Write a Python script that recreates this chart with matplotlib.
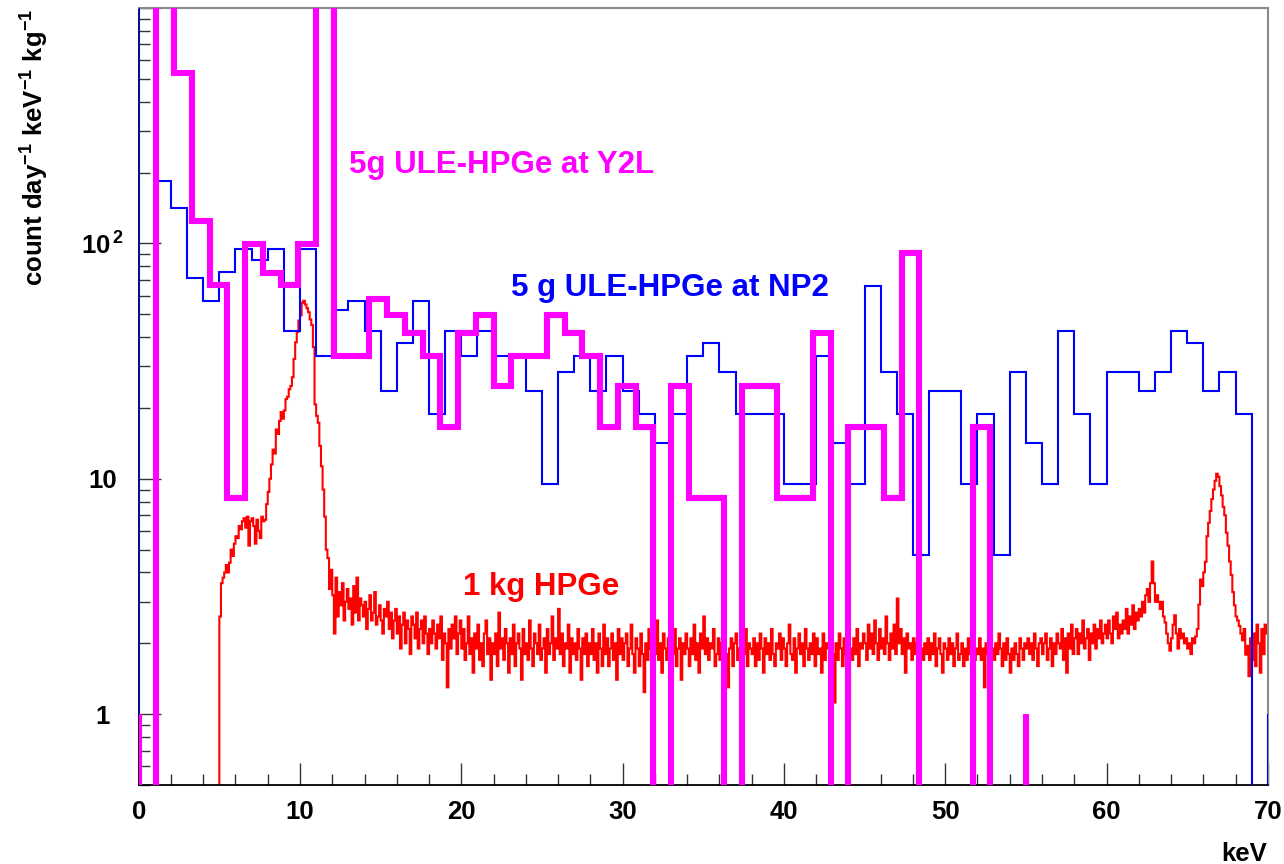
import numpy as np
import matplotlib
matplotlib.use('Agg')
import matplotlib.pyplot as plt
from matplotlib.ticker import MultipleLocator, LogLocator, NullFormatter, FixedLocator, FixedFormatter

plt.rcParams['font.family'] = ['Liberation Sans', 'DejaVu Sans']
plt.rcParams['font.weight'] = 'bold'
plt.rcParams['mathtext.fontset'] = 'custom'
plt.rcParams['mathtext.rm'] = 'Liberation Sans:bold'
plt.rcParams['mathtext.it'] = 'Liberation Sans:bold'
plt.rcParams['mathtext.bf'] = 'Liberation Sans:bold'

# ~~~~~~~~ DATA (count / day / keV / kg) ~~~~~~~~
# 5 g ULE-HPGe at Y2L : 1.1 keV bins from 0 to 55 keV (0 = empty bin, 2000 = off scale)
y2l_bin_width = 1.1
y2l_values = [0, 2000, 531, 124.5, 66.4, 8.3, 99.6, 74.7, 66.4, 99.6,
              2000, 33.2, 33.2, 58.1, 49.8, 41.5, 33.2, 16.6, 41.5, 49.8,
              24.9, 33.2, 33.2, 49.8, 41.5, 33.2, 16.6, 24.9, 16.6, 0,
              24.9, 8.3, 8.3, 0, 24.9, 24.9, 8.3, 8.3, 41.5, 0,
              16.6, 16.6, 8.3, 91.3, 0, 0, 0, 16.6, 0, 0]

# 5 g ULE-HPGe at NP2 : 1 keV bins from 0 to 70 keV
np2_bin_width = 1.0
np2_values = [2000, 184.5, 142, 71, 56.8, 75.7, 94.6, 85.1, 94.6, 42.6,
              94.6, 33.1, 52, 56.8, 42.6, 23.65, 37.8, 56.8, 18.9, 42.6,
              33.1, 42.6, 33.1, 33.1, 23.65, 9.46, 28.4, 33.1, 23.65, 33.1,
              23.65, 18.9, 14.2, 18.9, 33.1, 37.8, 28.4, 18.9, 18.9, 18.9,
              9.46, 9.46, 33.1, 14.2, 9.46, 66.2, 28.4, 18.9, 4.73, 23.65,
              23.65, 9.46, 18.9, 4.73, 28.4, 14.2, 9.46, 42.6, 18.9, 9.46,
              28.4, 28.4, 23.65, 28.4, 42.6, 37.8, 23.65, 28.4, 18.9, 0]

# 1 kg HPGe : 0.1 keV bins, empty below 5 keV, one row per keV from 5 to 70 keV
hpge_bin_width = 0.1
hpge_start = 5.0
hpge_rows = """
2.6 3.6 3.8 4.0 4.3 4.0 4.4 5.0 4.7 5.3
5.7 5.6 6.3 6.1 6.6 6.8 6.2 6.9 5.2 6.6
6.8 6.3 5.3 6.7 6.0 5.6 6.9 6.6 6.7 7.8
8.8 10.0 11.5 13.3 12.8 16.2 15.5 17.6 19.2 18.0
19.5 21.8 22.3 24.0 24.8 27.0 32.3 38.0 42.0 47.0
49.5 56.0 57.0 55.0 53.0 51.0 47.5 45.0 36.3 20.7
18.5 17.3 13.8 11.3 9.0 6.9 5.0 4.6 3.4 4.1
3.2 2.2 3.8 2.6 3.3 2.9 3.6 2.5 3.0 3.4
2.8 3.1 2.4 3.5 2.7 3.8 2.5 3.1 2.9 2.6
3.0 2.3 2.8 3.2 2.5 2.7 3.3 2.4 2.6 2.9
2.5 2.2 2.8 2.6 3.0 2.3 2.7 2.1 2.5 2.8
2.2 2.6 1.9 2.4 2.7 2.0 2.5 2.3 1.8 2.6
2.4 2.1 2.7 1.9 2.3 2.5 2.0 2.6 2.2 1.8
2.3 2.0 2.5 2.2 1.9 2.4 2.1 2.6 1.7 2.2
2.0 1.3 2.3 1.9 2.4 2.1 2.6 1.8 2.2 2.5
1.9 2.3 1.7 2.0 2.6 1.8 2.1 1.5 2.2 1.9
2.4 1.7 2.0 1.6 2.2 2.5 1.8 2.1 1.4 2.0
1.8 2.2 1.6 2.7 1.9 2.1 1.7 2.3 2.0 1.5
2.1 1.8 2.4 1.6 2.0 2.2 1.9 1.4 2.3 1.8
2.0 1.7 2.5 1.9 1.6 2.2 2.0 1.8 2.4 1.7
1.9 2.1 1.5 2.3 1.8 2.0 2.6 1.7 2.1 1.9
2.8 1.8 2.2 1.6 2.0 1.9 2.4 1.5 2.1 1.8
2.0 1.7 2.3 1.9 1.4 2.1 1.8 2.2 1.6 2.0
1.8 2.3 1.7 2.0 1.5 2.2 1.9 1.6 2.4 1.8
2.1 1.6 1.9 2.2 1.7 2.0 1.4 2.3 1.8 2.1
1.7 2.0 2.2 1.6 1.9 2.4 1.8 1.5 2.1 1.9
1.6 2.2 1.8 1.24 2.0 1.7 2.3 1.9 1.6 2.1
1.8 2.5 1.7 2.0 1.5 2.2 1.9 1.7 2.1 1.6
2.0 1.8 2.3 1.6 1.9 2.1 1.4 2.0 1.8 2.2
1.9 1.6 2.1 1.8 2.4 1.7 2.0 1.5 2.2 1.9
2.6 1.8 2.1 1.7 2.0 1.9 2.3 1.6 1.8 2.1
1.7 2.0 1.5 2.2 1.8 1.3 1.9 2.1 1.6 2.0
2.2 1.7 1.9 1.4 2.1 1.8 2.3 1.6 2.0 1.9
1.8 2.1 1.6 2.0 1.7 2.2 1.9 1.5 2.1 1.8
2.0 1.7 2.3 1.8 1.6 2.0 1.9 2.2 1.7 2.1
1.9 1.6 2.0 2.4 1.8 1.7 2.1 1.5 1.9 2.2
1.8 2.0 1.6 2.3 1.9 1.7 2.0 1.8 2.2 1.6
2.1 1.8 1.9 1.5 2.2 1.7 2.0 1.9 1.6 2.1
1.8 1.12 2.0 1.7 2.2 1.9 1.6 2.1 1.8 2.0
0.96 1.9 1.7 2.1 1.8 2.3 1.6 2.0 1.9 2.2
2.0 1.7 2.4 1.9 2.2 1.8 2.5 2.0 1.7 2.3
1.9 2.1 1.8 2.6 2.0 1.7 2.2 1.9 2.4 1.8
3.1 2.0 2.3 1.8 2.1 1.5 2.2 1.9 2.0 1.7
2.1 1.8 2.0 1.6 2.2 1.9 1.7 2.0 1.8 2.1
1.7 2.0 1.8 2.2 1.6 1.9 2.1 1.8 1.5 2.0
1.9 1.7 2.1 1.8 2.0 1.6 1.9 2.2 1.7 1.8
2.0 1.6 1.9 1.7 2.1 1.8 1.5 2.0 1.7 1.9
1.8 2.1 1.7 1.9 1.3 2.0 1.8 1.6 2.1 1.9
1.7 2.0 1.8 2.2 1.9 1.6 2.0 1.7 2.1 1.8
1.5 1.9 1.7 2.0 1.8 1.6 2.1 1.9 1.7 2.0
1.9 2.1 1.8 2.0 1.7 2.2 1.9 1.6 2.0 2.1
1.8 2.0 2.2 1.7 1.9 2.1 1.6 2.0 1.8 2.2
2.0 1.9 2.3 1.7 2.1 1.5 2.2 1.9 2.4 1.8
2.1 2.3 1.8 2.2 2.0 2.5 1.9 2.1 2.3 1.7
2.2 2.0 2.4 1.9 2.3 2.1 2.5 2.0 2.2 2.4
2.1 2.5 2.2 2.0 2.6 2.3 2.7 2.1 2.4 2.2
2.5 2.3 2.8 2.2 2.6 2.4 2.9 2.3 2.7 2.5
2.8 2.6 3.0 2.7 3.2 3.4 3.0 3.6 4.45 3.6
3.0 3.2 3.0 2.8 3.0 2.6 2.45 2.2 2.0 1.86
2.1 2.4 2.63 2.2 1.9 2.3 2.1 2.2 2.0 2.1
1.9 2.0 1.8 2.1 2.0 2.14 2.3 2.92 3.73 3.5
4.0 4.44 5.7 6.5 7.3 8.2 9.0 9.8 10.5 10.2
9.3 8.5 7.6 7.0 5.9 5.2 4.45 3.9 3.3 2.9
2.6 2.5 2.37 2.2 2.06 2.3 1.79 1.95 1.45 2.1
1.7 2.2 1.6 2.4 2.0 1.5 2.3 1.8 2.4 2.2
"""
hpge_values = [0.0] * int(round(hpge_start / hpge_bin_width)) + [float(v) for v in hpge_rows.split()]

labels = ['5g ULE-HPGe at Y2L', '5 g ULE-HPGe at NP2', '1 kg HPGe']
colors = ['#ff00ff', '#0000ff', '#ff0000']
y_major = [1, 10, 100, 1000]
y_major_labels = ['1', '10', '10$^{\\,2}$', '']


def edges_for(values, width):
    return np.arange(len(values) + 1) * width


def no_zero(values):
    v = np.asarray(values, dtype=float)
    return np.where(v > 0, v, 1e-3)  # empty bins drawn below the frame


fig = plt.figure(figsize=(12.84, 8.64), dpi=100)
ax = fig.add_axes([138.7 / 1284, 1 - 785 / 864, (1267.8 - 138.7) / 1284, (785 - 8) / 864])

ax.stairs(no_zero(hpge_values), edges_for(hpge_values, hpge_bin_width), baseline=None,
          color=colors[2], lw=1.5, zorder=2)
ax.stairs(no_zero(np2_values), edges_for(np2_values, np2_bin_width), baseline=1,
          color=colors[1], lw=1.5, zorder=3, joinstyle='miter')
ax.stairs(no_zero(y2l_values), edges_for(y2l_values, y2l_bin_width), baseline=1,
          color=colors[0], lw=4.4, zorder=4, joinstyle='miter')

ax.set_yscale('log')
ax.set_xlim(0, 70)
ax.set_ylim(0.5, 1000)

ax.xaxis.set_major_locator(MultipleLocator(10))
ax.xaxis.set_minor_locator(MultipleLocator(2))
ax.yaxis.set_major_locator(FixedLocator(y_major))
ax.yaxis.set_major_formatter(FixedFormatter(y_major_labels))
ax.yaxis.set_minor_locator(LogLocator(base=10, subs=np.arange(2, 10), numticks=20))
ax.yaxis.set_minor_formatter(NullFormatter())

ax.tick_params(which='both', direction='in', top=False, right=False, width=1, color='#333333')
ax.tick_params(which='major', length=15.5)
ax.tick_params(which='minor', length=7.8)
ax.tick_params(axis='x', which='major', labelsize=18.5, pad=11)
ax.tick_params(axis='y', which='major', labelsize=18.5, pad=26)
for lab in ax.get_yticklabels():
    lab.set_horizontalalignment('center')

for side in ['left', 'bottom']:
    ax.spines[side].set_color('black')
    ax.spines[side].set_linewidth(1.3)
for side in ['top', 'right']:
    ax.spines[side].set_color('#8a8a8a')
    ax.spines[side].set_linewidth(1.5)

# series labels written on the plot, as in the original
ax.text(13.04, 200, labels[0], color=colors[0], fontsize=22.5, fontweight='bold', va='baseline')
ax.text(23.08, 60, labels[1], color=colors[1], fontsize=22.5, fontweight='bold', va='baseline')
ax.text(20.12, 3.22, labels[2], color=colors[2], fontsize=22.5, fontweight='bold', va='baseline')

fig.text(1267 / 1284, 1 - 861 / 864, 'keV', fontsize=18.5, fontweight='bold', ha='right', va='baseline')
fig.text(35 / 1284, 1 - 9 / 864, 'count day$^{-1}$ keV$^{-1}$ kg$^{-1}$', fontsize=18.5,
         fontweight='bold', rotation=90, ha='center', va='top')

fig.savefig('out.png', dpi=100)
